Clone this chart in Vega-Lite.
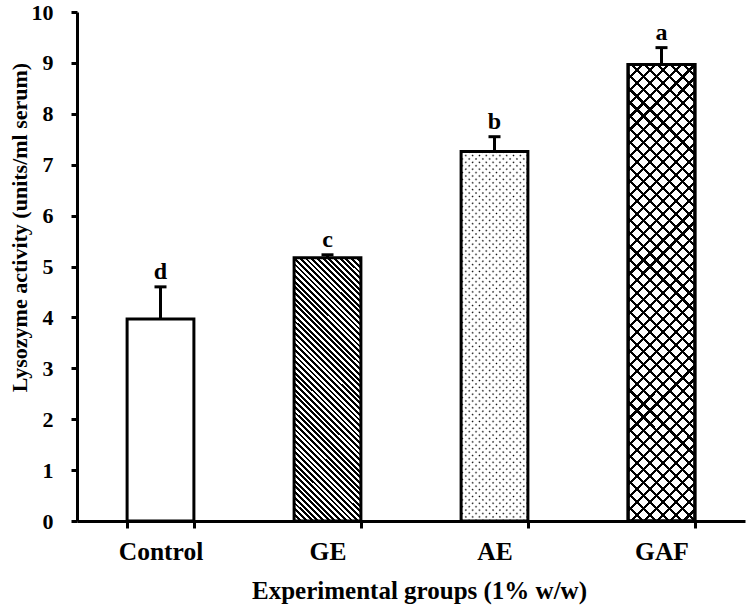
{
  "$schema": "https://vega.github.io/schema/vega-lite/v6.json",
  "width": 668,
  "height": 509,
  "autosize": {"type": "none"},
  "padding": {"left": 77, "top": 12, "right": 5, "bottom": 89},
  "background": "#ffffff",
  "data": {
    "values": [
      {"group": "Control", "mean": 3.97, "upper": 4.6, "letter": "d"},
      {"group": "GE", "mean": 5.17, "upper": 5.23, "letter": "c"},
      {"group": "AE", "mean": 7.26, "upper": 7.55, "letter": "b"},
      {"group": "GAF", "mean": 8.97, "upper": 9.3, "letter": "a"}
    ]
  },
  "encoding": {
    "x": {
      "field": "group",
      "type": "nominal",
      "sort": ["Control", "GE", "AE", "GAF"],
      "scale": {"paddingInner": 0.6, "paddingOuter": 0.3},
      "axis": {
        "title": "Experimental groups (1% w/w)",
        "labelAngle": 0,
        "tickBand": "extent",
        "tickSize": 7,
        "tickWidth": 3,
        "domainWidth": 3,
        "labelFontSize": 25.5,
        "labelBaseline": "alphabetic",
        "labelPadding": 31,
        "titleFontSize": 25,
        "titleBaseline": "alphabetic",
        "titleAnchor": "start",
        "titleAlign": "center",
        "titleX": 342,
        "titleY": 77
      }
    }
  },
  "layer": [
    {
      "transform": [{"filter": "datum.group === 'Control'"}],
      "mark": {"type": "bar", "fill": "#ffffff", "stroke": "#000000", "strokeWidth": 3},
      "encoding": {
        "y": {
          "field": "mean",
          "type": "quantitative",
          "scale": {"domain": [0, 10], "nice": false},
          "axis": {
            "title": "Lysozyme activity (units/ml serum)",
            "values": [0, 1, 2, 3, 4, 5, 6, 7, 8, 9, 10],
            "tickSize": 6,
            "tickWidth": 3,
            "domainWidth": 3,
            "labelPadding": 18,
            "labelFontSize": 22,
            "titleFontSize": 22,
            "titleAngle": -90,
            "titleAlign": "center",
            "titleBaseline": "middle",
            "titleX": -58,
            "titleY": 215
          }
        }
      }
    },
    {
      "transform": [{"filter": "datum.group === 'GE'"}],
      "mark": {
        "type": "bar",
        "stroke": "#000000",
        "strokeWidth": 3,
        "fill": {
          "gradient": "linear",
          "x1": 0, "y1": 1, "x2": 0.2984, "y2": -0.1778,
          "stops": [
            {"offset":0,"color":"#000"},
            {"offset":0.0086,"color":"#000"},{"offset":0.0086,"color":"#fff"},
            {"offset":0.0172,"color":"#fff"},{"offset":0.0172,"color":"#000"},
            {"offset":0.0259,"color":"#000"},{"offset":0.0259,"color":"#fff"},
            {"offset":0.0345,"color":"#fff"},{"offset":0.0345,"color":"#000"},
            {"offset":0.0431,"color":"#000"},{"offset":0.0431,"color":"#fff"},
            {"offset":0.0517,"color":"#fff"},{"offset":0.0517,"color":"#000"},
            {"offset":0.0603,"color":"#000"},{"offset":0.0603,"color":"#fff"},
            {"offset":0.0690,"color":"#fff"},{"offset":0.0690,"color":"#000"},
            {"offset":0.0776,"color":"#000"},{"offset":0.0776,"color":"#fff"},
            {"offset":0.0862,"color":"#fff"},{"offset":0.0862,"color":"#000"},
            {"offset":0.0948,"color":"#000"},{"offset":0.0948,"color":"#fff"},
            {"offset":0.1034,"color":"#fff"},{"offset":0.1034,"color":"#000"},
            {"offset":0.1121,"color":"#000"},{"offset":0.1121,"color":"#fff"},
            {"offset":0.1207,"color":"#fff"},{"offset":0.1207,"color":"#000"},
            {"offset":0.1293,"color":"#000"},{"offset":0.1293,"color":"#fff"},
            {"offset":0.1379,"color":"#fff"},{"offset":0.1379,"color":"#000"},
            {"offset":0.1466,"color":"#000"},{"offset":0.1466,"color":"#fff"},
            {"offset":0.1552,"color":"#fff"},{"offset":0.1552,"color":"#000"},
            {"offset":0.1638,"color":"#000"},{"offset":0.1638,"color":"#fff"},
            {"offset":0.1724,"color":"#fff"},{"offset":0.1724,"color":"#000"},
            {"offset":0.1810,"color":"#000"},{"offset":0.1810,"color":"#fff"},
            {"offset":0.1897,"color":"#fff"},{"offset":0.1897,"color":"#000"},
            {"offset":0.1983,"color":"#000"},{"offset":0.1983,"color":"#fff"},
            {"offset":0.2069,"color":"#fff"},{"offset":0.2069,"color":"#000"},
            {"offset":0.2155,"color":"#000"},{"offset":0.2155,"color":"#fff"},
            {"offset":0.2241,"color":"#fff"},{"offset":0.2241,"color":"#000"},
            {"offset":0.2328,"color":"#000"},{"offset":0.2328,"color":"#fff"},
            {"offset":0.2414,"color":"#fff"},{"offset":0.2414,"color":"#000"},
            {"offset":0.2500,"color":"#000"},{"offset":0.2500,"color":"#fff"},
            {"offset":0.2586,"color":"#fff"},{"offset":0.2586,"color":"#000"},
            {"offset":0.2672,"color":"#000"},{"offset":0.2672,"color":"#fff"},
            {"offset":0.2759,"color":"#fff"},{"offset":0.2759,"color":"#000"},
            {"offset":0.2845,"color":"#000"},{"offset":0.2845,"color":"#fff"},
            {"offset":0.2931,"color":"#fff"},{"offset":0.2931,"color":"#000"},
            {"offset":0.3017,"color":"#000"},{"offset":0.3017,"color":"#fff"},
            {"offset":0.3103,"color":"#fff"},{"offset":0.3103,"color":"#000"},
            {"offset":0.3190,"color":"#000"},{"offset":0.3190,"color":"#fff"},
            {"offset":0.3276,"color":"#fff"},{"offset":0.3276,"color":"#000"},
            {"offset":0.3362,"color":"#000"},{"offset":0.3362,"color":"#fff"},
            {"offset":0.3448,"color":"#fff"},{"offset":0.3448,"color":"#000"},
            {"offset":0.3534,"color":"#000"},{"offset":0.3534,"color":"#fff"},
            {"offset":0.3621,"color":"#fff"},{"offset":0.3621,"color":"#000"},
            {"offset":0.3707,"color":"#000"},{"offset":0.3707,"color":"#fff"},
            {"offset":0.3793,"color":"#fff"},{"offset":0.3793,"color":"#000"},
            {"offset":0.3879,"color":"#000"},{"offset":0.3879,"color":"#fff"},
            {"offset":0.3966,"color":"#fff"},{"offset":0.3966,"color":"#000"},
            {"offset":0.4052,"color":"#000"},{"offset":0.4052,"color":"#fff"},
            {"offset":0.4138,"color":"#fff"},{"offset":0.4138,"color":"#000"},
            {"offset":0.4224,"color":"#000"},{"offset":0.4224,"color":"#fff"},
            {"offset":0.4310,"color":"#fff"},{"offset":0.4310,"color":"#000"},
            {"offset":0.4397,"color":"#000"},{"offset":0.4397,"color":"#fff"},
            {"offset":0.4483,"color":"#fff"},{"offset":0.4483,"color":"#000"},
            {"offset":0.4569,"color":"#000"},{"offset":0.4569,"color":"#fff"},
            {"offset":0.4655,"color":"#fff"},{"offset":0.4655,"color":"#000"},
            {"offset":0.4741,"color":"#000"},{"offset":0.4741,"color":"#fff"},
            {"offset":0.4828,"color":"#fff"},{"offset":0.4828,"color":"#000"},
            {"offset":0.4914,"color":"#000"},{"offset":0.4914,"color":"#fff"},
            {"offset":0.5000,"color":"#fff"},{"offset":0.5000,"color":"#000"},
            {"offset":0.5086,"color":"#000"},{"offset":0.5086,"color":"#fff"},
            {"offset":0.5172,"color":"#fff"},{"offset":0.5172,"color":"#000"},
            {"offset":0.5259,"color":"#000"},{"offset":0.5259,"color":"#fff"},
            {"offset":0.5345,"color":"#fff"},{"offset":0.5345,"color":"#000"},
            {"offset":0.5431,"color":"#000"},{"offset":0.5431,"color":"#fff"},
            {"offset":0.5517,"color":"#fff"},{"offset":0.5517,"color":"#000"},
            {"offset":0.5603,"color":"#000"},{"offset":0.5603,"color":"#fff"},
            {"offset":0.5690,"color":"#fff"},{"offset":0.5690,"color":"#000"},
            {"offset":0.5776,"color":"#000"},{"offset":0.5776,"color":"#fff"},
            {"offset":0.5862,"color":"#fff"},{"offset":0.5862,"color":"#000"},
            {"offset":0.5948,"color":"#000"},{"offset":0.5948,"color":"#fff"},
            {"offset":0.6034,"color":"#fff"},{"offset":0.6034,"color":"#000"},
            {"offset":0.6121,"color":"#000"},{"offset":0.6121,"color":"#fff"},
            {"offset":0.6207,"color":"#fff"},{"offset":0.6207,"color":"#000"},
            {"offset":0.6293,"color":"#000"},{"offset":0.6293,"color":"#fff"},
            {"offset":0.6379,"color":"#fff"},{"offset":0.6379,"color":"#000"},
            {"offset":0.6466,"color":"#000"},{"offset":0.6466,"color":"#fff"},
            {"offset":0.6552,"color":"#fff"},{"offset":0.6552,"color":"#000"},
            {"offset":0.6638,"color":"#000"},{"offset":0.6638,"color":"#fff"},
            {"offset":0.6724,"color":"#fff"},{"offset":0.6724,"color":"#000"},
            {"offset":0.6810,"color":"#000"},{"offset":0.6810,"color":"#fff"},
            {"offset":0.6897,"color":"#fff"},{"offset":0.6897,"color":"#000"},
            {"offset":0.6983,"color":"#000"},{"offset":0.6983,"color":"#fff"},
            {"offset":0.7069,"color":"#fff"},{"offset":0.7069,"color":"#000"},
            {"offset":0.7155,"color":"#000"},{"offset":0.7155,"color":"#fff"},
            {"offset":0.7241,"color":"#fff"},{"offset":0.7241,"color":"#000"},
            {"offset":0.7328,"color":"#000"},{"offset":0.7328,"color":"#fff"},
            {"offset":0.7414,"color":"#fff"},{"offset":0.7414,"color":"#000"},
            {"offset":0.7500,"color":"#000"},{"offset":0.7500,"color":"#fff"},
            {"offset":0.7586,"color":"#fff"},{"offset":0.7586,"color":"#000"},
            {"offset":0.7672,"color":"#000"},{"offset":0.7672,"color":"#fff"},
            {"offset":0.7759,"color":"#fff"},{"offset":0.7759,"color":"#000"},
            {"offset":0.7845,"color":"#000"},{"offset":0.7845,"color":"#fff"},
            {"offset":0.7931,"color":"#fff"},{"offset":0.7931,"color":"#000"},
            {"offset":0.8017,"color":"#000"},{"offset":0.8017,"color":"#fff"},
            {"offset":0.8103,"color":"#fff"},{"offset":0.8103,"color":"#000"},
            {"offset":0.8190,"color":"#000"},{"offset":0.8190,"color":"#fff"},
            {"offset":0.8276,"color":"#fff"},{"offset":0.8276,"color":"#000"},
            {"offset":0.8362,"color":"#000"},{"offset":0.8362,"color":"#fff"},
            {"offset":0.8448,"color":"#fff"},{"offset":0.8448,"color":"#000"},
            {"offset":0.8534,"color":"#000"},{"offset":0.8534,"color":"#fff"},
            {"offset":0.8621,"color":"#fff"},{"offset":0.8621,"color":"#000"},
            {"offset":0.8707,"color":"#000"},{"offset":0.8707,"color":"#fff"},
            {"offset":0.8793,"color":"#fff"},{"offset":0.8793,"color":"#000"},
            {"offset":0.8879,"color":"#000"},{"offset":0.8879,"color":"#fff"},
            {"offset":0.8966,"color":"#fff"},{"offset":0.8966,"color":"#000"},
            {"offset":0.9052,"color":"#000"},{"offset":0.9052,"color":"#fff"},
            {"offset":0.9138,"color":"#fff"},{"offset":0.9138,"color":"#000"},
            {"offset":0.9224,"color":"#000"},{"offset":0.9224,"color":"#fff"},
            {"offset":0.9310,"color":"#fff"},{"offset":0.9310,"color":"#000"},
            {"offset":0.9397,"color":"#000"},{"offset":0.9397,"color":"#fff"},
            {"offset":0.9483,"color":"#fff"},{"offset":0.9483,"color":"#000"},
            {"offset":0.9569,"color":"#000"},{"offset":0.9569,"color":"#fff"},
            {"offset":0.9655,"color":"#fff"},{"offset":0.9655,"color":"#000"},
            {"offset":0.9741,"color":"#000"},{"offset":0.9741,"color":"#fff"},
            {"offset":0.9828,"color":"#fff"},{"offset":0.9828,"color":"#000"},
            {"offset":0.9914,"color":"#000"},{"offset":0.9914,"color":"#fff"},
            {"offset":1,"color":"#fff"}
          ]
        }
      },
      "encoding": {"y": {"field": "mean", "type": "quantitative"}}
    },
    {
      "transform": [{"filter": "datum.group === 'AE'"}],
      "mark": {"type": "bar", "fill": "#000000"},
      "encoding": {"y": {"field": "mean", "type": "quantitative"}}
    },
    {
      "transform": [{"filter": "datum.group === 'AE'"}],
      "mark": {
        "type": "bar",
        "fill": {
          "gradient": "linear",
          "x1": 0, "y1": 1, "x2": 0.2067, "y2": -0.1435,
          "stops": [
            {"offset":0,"color":"#fff"},{"offset":0.0045,"color":"rgba(255,255,255,0)"},{"offset":0.009,"color":"#fff"},
            {"offset":0.0156,"color":"#fff"},{"offset":0.0201,"color":"rgba(255,255,255,0)"},{"offset":0.0246,"color":"#fff"},
            {"offset":0.0313,"color":"#fff"},{"offset":0.0358,"color":"rgba(255,255,255,0)"},{"offset":0.0403,"color":"#fff"},
            {"offset":0.0469,"color":"#fff"},{"offset":0.0514,"color":"rgba(255,255,255,0)"},{"offset":0.0559,"color":"#fff"},
            {"offset":0.0625,"color":"#fff"},{"offset":0.067,"color":"rgba(255,255,255,0)"},{"offset":0.0715,"color":"#fff"},
            {"offset":0.0781,"color":"#fff"},{"offset":0.0826,"color":"rgba(255,255,255,0)"},{"offset":0.0871,"color":"#fff"},
            {"offset":0.0938,"color":"#fff"},{"offset":0.0983,"color":"rgba(255,255,255,0)"},{"offset":0.1028,"color":"#fff"},
            {"offset":0.1094,"color":"#fff"},{"offset":0.1139,"color":"rgba(255,255,255,0)"},{"offset":0.1184,"color":"#fff"},
            {"offset":0.125,"color":"#fff"},{"offset":0.1295,"color":"rgba(255,255,255,0)"},{"offset":0.134,"color":"#fff"},
            {"offset":0.1406,"color":"#fff"},{"offset":0.1451,"color":"rgba(255,255,255,0)"},{"offset":0.1496,"color":"#fff"},
            {"offset":0.1563,"color":"#fff"},{"offset":0.1608,"color":"rgba(255,255,255,0)"},{"offset":0.1653,"color":"#fff"},
            {"offset":0.1719,"color":"#fff"},{"offset":0.1764,"color":"rgba(255,255,255,0)"},{"offset":0.1809,"color":"#fff"},
            {"offset":0.1875,"color":"#fff"},{"offset":0.192,"color":"rgba(255,255,255,0)"},{"offset":0.1965,"color":"#fff"},
            {"offset":0.2031,"color":"#fff"},{"offset":0.2076,"color":"rgba(255,255,255,0)"},{"offset":0.2121,"color":"#fff"},
            {"offset":0.2188,"color":"#fff"},{"offset":0.2233,"color":"rgba(255,255,255,0)"},{"offset":0.2278,"color":"#fff"},
            {"offset":0.2344,"color":"#fff"},{"offset":0.2389,"color":"rgba(255,255,255,0)"},{"offset":0.2434,"color":"#fff"},
            {"offset":0.25,"color":"#fff"},{"offset":0.2545,"color":"rgba(255,255,255,0)"},{"offset":0.259,"color":"#fff"},
            {"offset":0.2656,"color":"#fff"},{"offset":0.2701,"color":"rgba(255,255,255,0)"},{"offset":0.2746,"color":"#fff"},
            {"offset":0.2813,"color":"#fff"},{"offset":0.2858,"color":"rgba(255,255,255,0)"},{"offset":0.2903,"color":"#fff"},
            {"offset":0.2969,"color":"#fff"},{"offset":0.3014,"color":"rgba(255,255,255,0)"},{"offset":0.3059,"color":"#fff"},
            {"offset":0.3125,"color":"#fff"},{"offset":0.317,"color":"rgba(255,255,255,0)"},{"offset":0.3215,"color":"#fff"},
            {"offset":0.3281,"color":"#fff"},{"offset":0.3326,"color":"rgba(255,255,255,0)"},{"offset":0.3371,"color":"#fff"},
            {"offset":0.3438,"color":"#fff"},{"offset":0.3483,"color":"rgba(255,255,255,0)"},{"offset":0.3528,"color":"#fff"},
            {"offset":0.3594,"color":"#fff"},{"offset":0.3639,"color":"rgba(255,255,255,0)"},{"offset":0.3684,"color":"#fff"},
            {"offset":0.375,"color":"#fff"},{"offset":0.3795,"color":"rgba(255,255,255,0)"},{"offset":0.384,"color":"#fff"},
            {"offset":0.3906,"color":"#fff"},{"offset":0.3951,"color":"rgba(255,255,255,0)"},{"offset":0.3996,"color":"#fff"},
            {"offset":0.4063,"color":"#fff"},{"offset":0.4108,"color":"rgba(255,255,255,0)"},{"offset":0.4153,"color":"#fff"},
            {"offset":0.4219,"color":"#fff"},{"offset":0.4264,"color":"rgba(255,255,255,0)"},{"offset":0.4309,"color":"#fff"},
            {"offset":0.4375,"color":"#fff"},{"offset":0.442,"color":"rgba(255,255,255,0)"},{"offset":0.4465,"color":"#fff"},
            {"offset":0.4531,"color":"#fff"},{"offset":0.4576,"color":"rgba(255,255,255,0)"},{"offset":0.4621,"color":"#fff"},
            {"offset":0.4688,"color":"#fff"},{"offset":0.4733,"color":"rgba(255,255,255,0)"},{"offset":0.4778,"color":"#fff"},
            {"offset":0.4844,"color":"#fff"},{"offset":0.4889,"color":"rgba(255,255,255,0)"},{"offset":0.4934,"color":"#fff"},
            {"offset":0.5,"color":"#fff"},{"offset":0.5045,"color":"rgba(255,255,255,0)"},{"offset":0.509,"color":"#fff"},
            {"offset":0.5156,"color":"#fff"},{"offset":0.5201,"color":"rgba(255,255,255,0)"},{"offset":0.5246,"color":"#fff"},
            {"offset":0.5313,"color":"#fff"},{"offset":0.5358,"color":"rgba(255,255,255,0)"},{"offset":0.5403,"color":"#fff"},
            {"offset":0.5469,"color":"#fff"},{"offset":0.5514,"color":"rgba(255,255,255,0)"},{"offset":0.5559,"color":"#fff"},
            {"offset":0.5625,"color":"#fff"},{"offset":0.567,"color":"rgba(255,255,255,0)"},{"offset":0.5715,"color":"#fff"},
            {"offset":0.5781,"color":"#fff"},{"offset":0.5826,"color":"rgba(255,255,255,0)"},{"offset":0.5871,"color":"#fff"},
            {"offset":0.5938,"color":"#fff"},{"offset":0.5983,"color":"rgba(255,255,255,0)"},{"offset":0.6028,"color":"#fff"},
            {"offset":0.6094,"color":"#fff"},{"offset":0.6139,"color":"rgba(255,255,255,0)"},{"offset":0.6184,"color":"#fff"},
            {"offset":0.625,"color":"#fff"},{"offset":0.6295,"color":"rgba(255,255,255,0)"},{"offset":0.634,"color":"#fff"},
            {"offset":0.6406,"color":"#fff"},{"offset":0.6451,"color":"rgba(255,255,255,0)"},{"offset":0.6496,"color":"#fff"},
            {"offset":0.6563,"color":"#fff"},{"offset":0.6608,"color":"rgba(255,255,255,0)"},{"offset":0.6653,"color":"#fff"},
            {"offset":0.6719,"color":"#fff"},{"offset":0.6764,"color":"rgba(255,255,255,0)"},{"offset":0.6809,"color":"#fff"},
            {"offset":0.6875,"color":"#fff"},{"offset":0.692,"color":"rgba(255,255,255,0)"},{"offset":0.6965,"color":"#fff"},
            {"offset":0.7031,"color":"#fff"},{"offset":0.7076,"color":"rgba(255,255,255,0)"},{"offset":0.7121,"color":"#fff"},
            {"offset":0.7188,"color":"#fff"},{"offset":0.7233,"color":"rgba(255,255,255,0)"},{"offset":0.7278,"color":"#fff"},
            {"offset":0.7344,"color":"#fff"},{"offset":0.7389,"color":"rgba(255,255,255,0)"},{"offset":0.7434,"color":"#fff"},
            {"offset":0.75,"color":"#fff"},{"offset":0.7545,"color":"rgba(255,255,255,0)"},{"offset":0.759,"color":"#fff"},
            {"offset":0.7656,"color":"#fff"},{"offset":0.7701,"color":"rgba(255,255,255,0)"},{"offset":0.7746,"color":"#fff"},
            {"offset":0.7813,"color":"#fff"},{"offset":0.7858,"color":"rgba(255,255,255,0)"},{"offset":0.7903,"color":"#fff"},
            {"offset":0.7969,"color":"#fff"},{"offset":0.8014,"color":"rgba(255,255,255,0)"},{"offset":0.8059,"color":"#fff"},
            {"offset":0.8125,"color":"#fff"},{"offset":0.817,"color":"rgba(255,255,255,0)"},{"offset":0.8215,"color":"#fff"},
            {"offset":0.8281,"color":"#fff"},{"offset":0.8326,"color":"rgba(255,255,255,0)"},{"offset":0.8371,"color":"#fff"},
            {"offset":0.8438,"color":"#fff"},{"offset":0.8483,"color":"rgba(255,255,255,0)"},{"offset":0.8528,"color":"#fff"},
            {"offset":0.8594,"color":"#fff"},{"offset":0.8639,"color":"rgba(255,255,255,0)"},{"offset":0.8684,"color":"#fff"},
            {"offset":0.875,"color":"#fff"},{"offset":0.8795,"color":"rgba(255,255,255,0)"},{"offset":0.884,"color":"#fff"},
            {"offset":0.8906,"color":"#fff"},{"offset":0.8951,"color":"rgba(255,255,255,0)"},{"offset":0.8996,"color":"#fff"},
            {"offset":0.9063,"color":"#fff"},{"offset":0.9108,"color":"rgba(255,255,255,0)"},{"offset":0.9153,"color":"#fff"},
            {"offset":0.9219,"color":"#fff"},{"offset":0.9264,"color":"rgba(255,255,255,0)"},{"offset":0.9309,"color":"#fff"},
            {"offset":0.9375,"color":"#fff"},{"offset":0.942,"color":"rgba(255,255,255,0)"},{"offset":0.9465,"color":"#fff"},
            {"offset":0.9531,"color":"#fff"},{"offset":0.9576,"color":"rgba(255,255,255,0)"},{"offset":0.9621,"color":"#fff"},
            {"offset":0.9688,"color":"#fff"},{"offset":0.9733,"color":"rgba(255,255,255,0)"},{"offset":0.9778,"color":"#fff"},
            {"offset":0.9844,"color":"#fff"},{"offset":0.9889,"color":"rgba(255,255,255,0)"},{"offset":0.9934,"color":"#fff"},
            {"offset":1,"color":"#fff"}
          ]
        }
      },
      "encoding": {"y": {"field": "mean", "type": "quantitative"}}
    },
    {
      "transform": [{"filter": "datum.group === 'AE'"}],
      "mark": {
        "type": "bar",
        "stroke": "#000000",
        "strokeWidth": 3,
        "fill": {
          "gradient": "linear",
          "x1": 0, "y1": 0, "x2": 0.2067, "y2": 1.1435,
          "stops": [
            {"offset":0,"color":"#fff"},{"offset":0.0045,"color":"rgba(255,255,255,0)"},{"offset":0.009,"color":"#fff"},
            {"offset":0.0156,"color":"#fff"},{"offset":0.0201,"color":"rgba(255,255,255,0)"},{"offset":0.0246,"color":"#fff"},
            {"offset":0.0313,"color":"#fff"},{"offset":0.0358,"color":"rgba(255,255,255,0)"},{"offset":0.0403,"color":"#fff"},
            {"offset":0.0469,"color":"#fff"},{"offset":0.0514,"color":"rgba(255,255,255,0)"},{"offset":0.0559,"color":"#fff"},
            {"offset":0.0625,"color":"#fff"},{"offset":0.067,"color":"rgba(255,255,255,0)"},{"offset":0.0715,"color":"#fff"},
            {"offset":0.0781,"color":"#fff"},{"offset":0.0826,"color":"rgba(255,255,255,0)"},{"offset":0.0871,"color":"#fff"},
            {"offset":0.0938,"color":"#fff"},{"offset":0.0983,"color":"rgba(255,255,255,0)"},{"offset":0.1028,"color":"#fff"},
            {"offset":0.1094,"color":"#fff"},{"offset":0.1139,"color":"rgba(255,255,255,0)"},{"offset":0.1184,"color":"#fff"},
            {"offset":0.125,"color":"#fff"},{"offset":0.1295,"color":"rgba(255,255,255,0)"},{"offset":0.134,"color":"#fff"},
            {"offset":0.1406,"color":"#fff"},{"offset":0.1451,"color":"rgba(255,255,255,0)"},{"offset":0.1496,"color":"#fff"},
            {"offset":0.1563,"color":"#fff"},{"offset":0.1608,"color":"rgba(255,255,255,0)"},{"offset":0.1653,"color":"#fff"},
            {"offset":0.1719,"color":"#fff"},{"offset":0.1764,"color":"rgba(255,255,255,0)"},{"offset":0.1809,"color":"#fff"},
            {"offset":0.1875,"color":"#fff"},{"offset":0.192,"color":"rgba(255,255,255,0)"},{"offset":0.1965,"color":"#fff"},
            {"offset":0.2031,"color":"#fff"},{"offset":0.2076,"color":"rgba(255,255,255,0)"},{"offset":0.2121,"color":"#fff"},
            {"offset":0.2188,"color":"#fff"},{"offset":0.2233,"color":"rgba(255,255,255,0)"},{"offset":0.2278,"color":"#fff"},
            {"offset":0.2344,"color":"#fff"},{"offset":0.2389,"color":"rgba(255,255,255,0)"},{"offset":0.2434,"color":"#fff"},
            {"offset":0.25,"color":"#fff"},{"offset":0.2545,"color":"rgba(255,255,255,0)"},{"offset":0.259,"color":"#fff"},
            {"offset":0.2656,"color":"#fff"},{"offset":0.2701,"color":"rgba(255,255,255,0)"},{"offset":0.2746,"color":"#fff"},
            {"offset":0.2813,"color":"#fff"},{"offset":0.2858,"color":"rgba(255,255,255,0)"},{"offset":0.2903,"color":"#fff"},
            {"offset":0.2969,"color":"#fff"},{"offset":0.3014,"color":"rgba(255,255,255,0)"},{"offset":0.3059,"color":"#fff"},
            {"offset":0.3125,"color":"#fff"},{"offset":0.317,"color":"rgba(255,255,255,0)"},{"offset":0.3215,"color":"#fff"},
            {"offset":0.3281,"color":"#fff"},{"offset":0.3326,"color":"rgba(255,255,255,0)"},{"offset":0.3371,"color":"#fff"},
            {"offset":0.3438,"color":"#fff"},{"offset":0.3483,"color":"rgba(255,255,255,0)"},{"offset":0.3528,"color":"#fff"},
            {"offset":0.3594,"color":"#fff"},{"offset":0.3639,"color":"rgba(255,255,255,0)"},{"offset":0.3684,"color":"#fff"},
            {"offset":0.375,"color":"#fff"},{"offset":0.3795,"color":"rgba(255,255,255,0)"},{"offset":0.384,"color":"#fff"},
            {"offset":0.3906,"color":"#fff"},{"offset":0.3951,"color":"rgba(255,255,255,0)"},{"offset":0.3996,"color":"#fff"},
            {"offset":0.4063,"color":"#fff"},{"offset":0.4108,"color":"rgba(255,255,255,0)"},{"offset":0.4153,"color":"#fff"},
            {"offset":0.4219,"color":"#fff"},{"offset":0.4264,"color":"rgba(255,255,255,0)"},{"offset":0.4309,"color":"#fff"},
            {"offset":0.4375,"color":"#fff"},{"offset":0.442,"color":"rgba(255,255,255,0)"},{"offset":0.4465,"color":"#fff"},
            {"offset":0.4531,"color":"#fff"},{"offset":0.4576,"color":"rgba(255,255,255,0)"},{"offset":0.4621,"color":"#fff"},
            {"offset":0.4688,"color":"#fff"},{"offset":0.4733,"color":"rgba(255,255,255,0)"},{"offset":0.4778,"color":"#fff"},
            {"offset":0.4844,"color":"#fff"},{"offset":0.4889,"color":"rgba(255,255,255,0)"},{"offset":0.4934,"color":"#fff"},
            {"offset":0.5,"color":"#fff"},{"offset":0.5045,"color":"rgba(255,255,255,0)"},{"offset":0.509,"color":"#fff"},
            {"offset":0.5156,"color":"#fff"},{"offset":0.5201,"color":"rgba(255,255,255,0)"},{"offset":0.5246,"color":"#fff"},
            {"offset":0.5313,"color":"#fff"},{"offset":0.5358,"color":"rgba(255,255,255,0)"},{"offset":0.5403,"color":"#fff"},
            {"offset":0.5469,"color":"#fff"},{"offset":0.5514,"color":"rgba(255,255,255,0)"},{"offset":0.5559,"color":"#fff"},
            {"offset":0.5625,"color":"#fff"},{"offset":0.567,"color":"rgba(255,255,255,0)"},{"offset":0.5715,"color":"#fff"},
            {"offset":0.5781,"color":"#fff"},{"offset":0.5826,"color":"rgba(255,255,255,0)"},{"offset":0.5871,"color":"#fff"},
            {"offset":0.5938,"color":"#fff"},{"offset":0.5983,"color":"rgba(255,255,255,0)"},{"offset":0.6028,"color":"#fff"},
            {"offset":0.6094,"color":"#fff"},{"offset":0.6139,"color":"rgba(255,255,255,0)"},{"offset":0.6184,"color":"#fff"},
            {"offset":0.625,"color":"#fff"},{"offset":0.6295,"color":"rgba(255,255,255,0)"},{"offset":0.634,"color":"#fff"},
            {"offset":0.6406,"color":"#fff"},{"offset":0.6451,"color":"rgba(255,255,255,0)"},{"offset":0.6496,"color":"#fff"},
            {"offset":0.6563,"color":"#fff"},{"offset":0.6608,"color":"rgba(255,255,255,0)"},{"offset":0.6653,"color":"#fff"},
            {"offset":0.6719,"color":"#fff"},{"offset":0.6764,"color":"rgba(255,255,255,0)"},{"offset":0.6809,"color":"#fff"},
            {"offset":0.6875,"color":"#fff"},{"offset":0.692,"color":"rgba(255,255,255,0)"},{"offset":0.6965,"color":"#fff"},
            {"offset":0.7031,"color":"#fff"},{"offset":0.7076,"color":"rgba(255,255,255,0)"},{"offset":0.7121,"color":"#fff"},
            {"offset":0.7188,"color":"#fff"},{"offset":0.7233,"color":"rgba(255,255,255,0)"},{"offset":0.7278,"color":"#fff"},
            {"offset":0.7344,"color":"#fff"},{"offset":0.7389,"color":"rgba(255,255,255,0)"},{"offset":0.7434,"color":"#fff"},
            {"offset":0.75,"color":"#fff"},{"offset":0.7545,"color":"rgba(255,255,255,0)"},{"offset":0.759,"color":"#fff"},
            {"offset":0.7656,"color":"#fff"},{"offset":0.7701,"color":"rgba(255,255,255,0)"},{"offset":0.7746,"color":"#fff"},
            {"offset":0.7813,"color":"#fff"},{"offset":0.7858,"color":"rgba(255,255,255,0)"},{"offset":0.7903,"color":"#fff"},
            {"offset":0.7969,"color":"#fff"},{"offset":0.8014,"color":"rgba(255,255,255,0)"},{"offset":0.8059,"color":"#fff"},
            {"offset":0.8125,"color":"#fff"},{"offset":0.817,"color":"rgba(255,255,255,0)"},{"offset":0.8215,"color":"#fff"},
            {"offset":0.8281,"color":"#fff"},{"offset":0.8326,"color":"rgba(255,255,255,0)"},{"offset":0.8371,"color":"#fff"},
            {"offset":0.8438,"color":"#fff"},{"offset":0.8483,"color":"rgba(255,255,255,0)"},{"offset":0.8528,"color":"#fff"},
            {"offset":0.8594,"color":"#fff"},{"offset":0.8639,"color":"rgba(255,255,255,0)"},{"offset":0.8684,"color":"#fff"},
            {"offset":0.875,"color":"#fff"},{"offset":0.8795,"color":"rgba(255,255,255,0)"},{"offset":0.884,"color":"#fff"},
            {"offset":0.8906,"color":"#fff"},{"offset":0.8951,"color":"rgba(255,255,255,0)"},{"offset":0.8996,"color":"#fff"},
            {"offset":0.9063,"color":"#fff"},{"offset":0.9108,"color":"rgba(255,255,255,0)"},{"offset":0.9153,"color":"#fff"},
            {"offset":0.9219,"color":"#fff"},{"offset":0.9264,"color":"rgba(255,255,255,0)"},{"offset":0.9309,"color":"#fff"},
            {"offset":0.9375,"color":"#fff"},{"offset":0.942,"color":"rgba(255,255,255,0)"},{"offset":0.9465,"color":"#fff"},
            {"offset":0.9531,"color":"#fff"},{"offset":0.9576,"color":"rgba(255,255,255,0)"},{"offset":0.9621,"color":"#fff"},
            {"offset":0.9688,"color":"#fff"},{"offset":0.9733,"color":"rgba(255,255,255,0)"},{"offset":0.9778,"color":"#fff"},
            {"offset":0.9844,"color":"#fff"},{"offset":0.9889,"color":"rgba(255,255,255,0)"},{"offset":0.9934,"color":"#fff"},
            {"offset":1,"color":"#fff"}
          ]
        }
      },
      "encoding": {"y": {"field": "mean", "type": "quantitative"}}
    },
    {
      "transform": [{"filter": "datum.group === 'GAF'"}],
      "mark": {
        "type": "bar",
        "stroke": "#000000",
        "strokeWidth": 3,
        "fill": {
          "gradient": "linear",
          "x1": 0, "y1": 1, "x2": 0.1644, "y2": -0.1225,
          "stops": [
            {"offset":0,"color":"#000"},{"offset":0.006,"color":"#000"},{"offset":0.006,"color":"#fff"},{"offset":0.025,"color":"#fff"},
            {"offset":0.025,"color":"#000"},{"offset":0.031,"color":"#000"},{"offset":0.031,"color":"#fff"},{"offset":0.05,"color":"#fff"},
            {"offset":0.05,"color":"#000"},{"offset":0.056,"color":"#000"},{"offset":0.056,"color":"#fff"},{"offset":0.075,"color":"#fff"},
            {"offset":0.075,"color":"#000"},{"offset":0.081,"color":"#000"},{"offset":0.081,"color":"#fff"},{"offset":0.1,"color":"#fff"},
            {"offset":0.1,"color":"#000"},{"offset":0.106,"color":"#000"},{"offset":0.106,"color":"#fff"},{"offset":0.125,"color":"#fff"},
            {"offset":0.125,"color":"#000"},{"offset":0.131,"color":"#000"},{"offset":0.131,"color":"#fff"},{"offset":0.15,"color":"#fff"},
            {"offset":0.15,"color":"#000"},{"offset":0.156,"color":"#000"},{"offset":0.156,"color":"#fff"},{"offset":0.175,"color":"#fff"},
            {"offset":0.175,"color":"#000"},{"offset":0.181,"color":"#000"},{"offset":0.181,"color":"#fff"},{"offset":0.2,"color":"#fff"},
            {"offset":0.2,"color":"#000"},{"offset":0.206,"color":"#000"},{"offset":0.206,"color":"#fff"},{"offset":0.225,"color":"#fff"},
            {"offset":0.225,"color":"#000"},{"offset":0.231,"color":"#000"},{"offset":0.231,"color":"#fff"},{"offset":0.25,"color":"#fff"},
            {"offset":0.25,"color":"#000"},{"offset":0.256,"color":"#000"},{"offset":0.256,"color":"#fff"},{"offset":0.275,"color":"#fff"},
            {"offset":0.275,"color":"#000"},{"offset":0.281,"color":"#000"},{"offset":0.281,"color":"#fff"},{"offset":0.3,"color":"#fff"},
            {"offset":0.3,"color":"#000"},{"offset":0.306,"color":"#000"},{"offset":0.306,"color":"#fff"},{"offset":0.325,"color":"#fff"},
            {"offset":0.325,"color":"#000"},{"offset":0.331,"color":"#000"},{"offset":0.331,"color":"#fff"},{"offset":0.35,"color":"#fff"},
            {"offset":0.35,"color":"#000"},{"offset":0.356,"color":"#000"},{"offset":0.356,"color":"#fff"},{"offset":0.375,"color":"#fff"},
            {"offset":0.375,"color":"#000"},{"offset":0.381,"color":"#000"},{"offset":0.381,"color":"#fff"},{"offset":0.4,"color":"#fff"},
            {"offset":0.4,"color":"#000"},{"offset":0.406,"color":"#000"},{"offset":0.406,"color":"#fff"},{"offset":0.425,"color":"#fff"},
            {"offset":0.425,"color":"#000"},{"offset":0.431,"color":"#000"},{"offset":0.431,"color":"#fff"},{"offset":0.45,"color":"#fff"},
            {"offset":0.45,"color":"#000"},{"offset":0.456,"color":"#000"},{"offset":0.456,"color":"#fff"},{"offset":0.475,"color":"#fff"},
            {"offset":0.475,"color":"#000"},{"offset":0.481,"color":"#000"},{"offset":0.481,"color":"#fff"},{"offset":0.5,"color":"#fff"},
            {"offset":0.5,"color":"#000"},{"offset":0.506,"color":"#000"},{"offset":0.506,"color":"#fff"},{"offset":0.525,"color":"#fff"},
            {"offset":0.525,"color":"#000"},{"offset":0.531,"color":"#000"},{"offset":0.531,"color":"#fff"},{"offset":0.55,"color":"#fff"},
            {"offset":0.55,"color":"#000"},{"offset":0.556,"color":"#000"},{"offset":0.556,"color":"#fff"},{"offset":0.575,"color":"#fff"},
            {"offset":0.575,"color":"#000"},{"offset":0.581,"color":"#000"},{"offset":0.581,"color":"#fff"},{"offset":0.6,"color":"#fff"},
            {"offset":0.6,"color":"#000"},{"offset":0.606,"color":"#000"},{"offset":0.606,"color":"#fff"},{"offset":0.625,"color":"#fff"},
            {"offset":0.625,"color":"#000"},{"offset":0.631,"color":"#000"},{"offset":0.631,"color":"#fff"},{"offset":0.65,"color":"#fff"},
            {"offset":0.65,"color":"#000"},{"offset":0.656,"color":"#000"},{"offset":0.656,"color":"#fff"},{"offset":0.675,"color":"#fff"},
            {"offset":0.675,"color":"#000"},{"offset":0.681,"color":"#000"},{"offset":0.681,"color":"#fff"},{"offset":0.7,"color":"#fff"},
            {"offset":0.7,"color":"#000"},{"offset":0.706,"color":"#000"},{"offset":0.706,"color":"#fff"},{"offset":0.725,"color":"#fff"},
            {"offset":0.725,"color":"#000"},{"offset":0.731,"color":"#000"},{"offset":0.731,"color":"#fff"},{"offset":0.75,"color":"#fff"},
            {"offset":0.75,"color":"#000"},{"offset":0.756,"color":"#000"},{"offset":0.756,"color":"#fff"},{"offset":0.775,"color":"#fff"},
            {"offset":0.775,"color":"#000"},{"offset":0.781,"color":"#000"},{"offset":0.781,"color":"#fff"},{"offset":0.8,"color":"#fff"},
            {"offset":0.8,"color":"#000"},{"offset":0.806,"color":"#000"},{"offset":0.806,"color":"#fff"},{"offset":0.825,"color":"#fff"},
            {"offset":0.825,"color":"#000"},{"offset":0.831,"color":"#000"},{"offset":0.831,"color":"#fff"},{"offset":0.85,"color":"#fff"},
            {"offset":0.85,"color":"#000"},{"offset":0.856,"color":"#000"},{"offset":0.856,"color":"#fff"},{"offset":0.875,"color":"#fff"},
            {"offset":0.875,"color":"#000"},{"offset":0.881,"color":"#000"},{"offset":0.881,"color":"#fff"},{"offset":0.9,"color":"#fff"},
            {"offset":0.9,"color":"#000"},{"offset":0.906,"color":"#000"},{"offset":0.906,"color":"#fff"},{"offset":0.925,"color":"#fff"},
            {"offset":0.925,"color":"#000"},{"offset":0.931,"color":"#000"},{"offset":0.931,"color":"#fff"},{"offset":0.95,"color":"#fff"},
            {"offset":0.95,"color":"#000"},{"offset":0.956,"color":"#000"},{"offset":0.956,"color":"#fff"},{"offset":0.975,"color":"#fff"},
            {"offset":0.975,"color":"#000"},{"offset":0.981,"color":"#000"},{"offset":0.981,"color":"#fff"},{"offset":1,"color":"#fff"}
          ]
        }
      },
      "encoding": {"y": {"field": "mean", "type": "quantitative"}}
    },
    {
      "transform": [{"filter": "datum.group === 'GAF'"}],
      "mark": {
        "type": "bar",
        "stroke": "#000000",
        "strokeWidth": 3,
        "fill": {
          "gradient": "linear",
          "x1": 0, "y1": 0, "x2": 0.1644, "y2": 1.1225,
          "stops": [
            {"offset":0,"color":"#000"},{"offset":0.006,"color":"#000"},{"offset":0.006,"color":"rgba(0,0,0,0)"},{"offset":0.025,"color":"rgba(0,0,0,0)"},
            {"offset":0.025,"color":"#000"},{"offset":0.031,"color":"#000"},{"offset":0.031,"color":"rgba(0,0,0,0)"},{"offset":0.05,"color":"rgba(0,0,0,0)"},
            {"offset":0.05,"color":"#000"},{"offset":0.056,"color":"#000"},{"offset":0.056,"color":"rgba(0,0,0,0)"},{"offset":0.075,"color":"rgba(0,0,0,0)"},
            {"offset":0.075,"color":"#000"},{"offset":0.081,"color":"#000"},{"offset":0.081,"color":"rgba(0,0,0,0)"},{"offset":0.1,"color":"rgba(0,0,0,0)"},
            {"offset":0.1,"color":"#000"},{"offset":0.106,"color":"#000"},{"offset":0.106,"color":"rgba(0,0,0,0)"},{"offset":0.125,"color":"rgba(0,0,0,0)"},
            {"offset":0.125,"color":"#000"},{"offset":0.131,"color":"#000"},{"offset":0.131,"color":"rgba(0,0,0,0)"},{"offset":0.15,"color":"rgba(0,0,0,0)"},
            {"offset":0.15,"color":"#000"},{"offset":0.156,"color":"#000"},{"offset":0.156,"color":"rgba(0,0,0,0)"},{"offset":0.175,"color":"rgba(0,0,0,0)"},
            {"offset":0.175,"color":"#000"},{"offset":0.181,"color":"#000"},{"offset":0.181,"color":"rgba(0,0,0,0)"},{"offset":0.2,"color":"rgba(0,0,0,0)"},
            {"offset":0.2,"color":"#000"},{"offset":0.206,"color":"#000"},{"offset":0.206,"color":"rgba(0,0,0,0)"},{"offset":0.225,"color":"rgba(0,0,0,0)"},
            {"offset":0.225,"color":"#000"},{"offset":0.231,"color":"#000"},{"offset":0.231,"color":"rgba(0,0,0,0)"},{"offset":0.25,"color":"rgba(0,0,0,0)"},
            {"offset":0.25,"color":"#000"},{"offset":0.256,"color":"#000"},{"offset":0.256,"color":"rgba(0,0,0,0)"},{"offset":0.275,"color":"rgba(0,0,0,0)"},
            {"offset":0.275,"color":"#000"},{"offset":0.281,"color":"#000"},{"offset":0.281,"color":"rgba(0,0,0,0)"},{"offset":0.3,"color":"rgba(0,0,0,0)"},
            {"offset":0.3,"color":"#000"},{"offset":0.306,"color":"#000"},{"offset":0.306,"color":"rgba(0,0,0,0)"},{"offset":0.325,"color":"rgba(0,0,0,0)"},
            {"offset":0.325,"color":"#000"},{"offset":0.331,"color":"#000"},{"offset":0.331,"color":"rgba(0,0,0,0)"},{"offset":0.35,"color":"rgba(0,0,0,0)"},
            {"offset":0.35,"color":"#000"},{"offset":0.356,"color":"#000"},{"offset":0.356,"color":"rgba(0,0,0,0)"},{"offset":0.375,"color":"rgba(0,0,0,0)"},
            {"offset":0.375,"color":"#000"},{"offset":0.381,"color":"#000"},{"offset":0.381,"color":"rgba(0,0,0,0)"},{"offset":0.4,"color":"rgba(0,0,0,0)"},
            {"offset":0.4,"color":"#000"},{"offset":0.406,"color":"#000"},{"offset":0.406,"color":"rgba(0,0,0,0)"},{"offset":0.425,"color":"rgba(0,0,0,0)"},
            {"offset":0.425,"color":"#000"},{"offset":0.431,"color":"#000"},{"offset":0.431,"color":"rgba(0,0,0,0)"},{"offset":0.45,"color":"rgba(0,0,0,0)"},
            {"offset":0.45,"color":"#000"},{"offset":0.456,"color":"#000"},{"offset":0.456,"color":"rgba(0,0,0,0)"},{"offset":0.475,"color":"rgba(0,0,0,0)"},
            {"offset":0.475,"color":"#000"},{"offset":0.481,"color":"#000"},{"offset":0.481,"color":"rgba(0,0,0,0)"},{"offset":0.5,"color":"rgba(0,0,0,0)"},
            {"offset":0.5,"color":"#000"},{"offset":0.506,"color":"#000"},{"offset":0.506,"color":"rgba(0,0,0,0)"},{"offset":0.525,"color":"rgba(0,0,0,0)"},
            {"offset":0.525,"color":"#000"},{"offset":0.531,"color":"#000"},{"offset":0.531,"color":"rgba(0,0,0,0)"},{"offset":0.55,"color":"rgba(0,0,0,0)"},
            {"offset":0.55,"color":"#000"},{"offset":0.556,"color":"#000"},{"offset":0.556,"color":"rgba(0,0,0,0)"},{"offset":0.575,"color":"rgba(0,0,0,0)"},
            {"offset":0.575,"color":"#000"},{"offset":0.581,"color":"#000"},{"offset":0.581,"color":"rgba(0,0,0,0)"},{"offset":0.6,"color":"rgba(0,0,0,0)"},
            {"offset":0.6,"color":"#000"},{"offset":0.606,"color":"#000"},{"offset":0.606,"color":"rgba(0,0,0,0)"},{"offset":0.625,"color":"rgba(0,0,0,0)"},
            {"offset":0.625,"color":"#000"},{"offset":0.631,"color":"#000"},{"offset":0.631,"color":"rgba(0,0,0,0)"},{"offset":0.65,"color":"rgba(0,0,0,0)"},
            {"offset":0.65,"color":"#000"},{"offset":0.656,"color":"#000"},{"offset":0.656,"color":"rgba(0,0,0,0)"},{"offset":0.675,"color":"rgba(0,0,0,0)"},
            {"offset":0.675,"color":"#000"},{"offset":0.681,"color":"#000"},{"offset":0.681,"color":"rgba(0,0,0,0)"},{"offset":0.7,"color":"rgba(0,0,0,0)"},
            {"offset":0.7,"color":"#000"},{"offset":0.706,"color":"#000"},{"offset":0.706,"color":"rgba(0,0,0,0)"},{"offset":0.725,"color":"rgba(0,0,0,0)"},
            {"offset":0.725,"color":"#000"},{"offset":0.731,"color":"#000"},{"offset":0.731,"color":"rgba(0,0,0,0)"},{"offset":0.75,"color":"rgba(0,0,0,0)"},
            {"offset":0.75,"color":"#000"},{"offset":0.756,"color":"#000"},{"offset":0.756,"color":"rgba(0,0,0,0)"},{"offset":0.775,"color":"rgba(0,0,0,0)"},
            {"offset":0.775,"color":"#000"},{"offset":0.781,"color":"#000"},{"offset":0.781,"color":"rgba(0,0,0,0)"},{"offset":0.8,"color":"rgba(0,0,0,0)"},
            {"offset":0.8,"color":"#000"},{"offset":0.806,"color":"#000"},{"offset":0.806,"color":"rgba(0,0,0,0)"},{"offset":0.825,"color":"rgba(0,0,0,0)"},
            {"offset":0.825,"color":"#000"},{"offset":0.831,"color":"#000"},{"offset":0.831,"color":"rgba(0,0,0,0)"},{"offset":0.85,"color":"rgba(0,0,0,0)"},
            {"offset":0.85,"color":"#000"},{"offset":0.856,"color":"#000"},{"offset":0.856,"color":"rgba(0,0,0,0)"},{"offset":0.875,"color":"rgba(0,0,0,0)"},
            {"offset":0.875,"color":"#000"},{"offset":0.881,"color":"#000"},{"offset":0.881,"color":"rgba(0,0,0,0)"},{"offset":0.9,"color":"rgba(0,0,0,0)"},
            {"offset":0.9,"color":"#000"},{"offset":0.906,"color":"#000"},{"offset":0.906,"color":"rgba(0,0,0,0)"},{"offset":0.925,"color":"rgba(0,0,0,0)"},
            {"offset":0.925,"color":"#000"},{"offset":0.931,"color":"#000"},{"offset":0.931,"color":"rgba(0,0,0,0)"},{"offset":0.95,"color":"rgba(0,0,0,0)"},
            {"offset":0.95,"color":"#000"},{"offset":0.956,"color":"#000"},{"offset":0.956,"color":"rgba(0,0,0,0)"},{"offset":0.975,"color":"rgba(0,0,0,0)"},
            {"offset":0.975,"color":"#000"},{"offset":0.981,"color":"#000"},{"offset":0.981,"color":"rgba(0,0,0,0)"},{"offset":1,"color":"rgba(0,0,0,0)"}
          ]
        }
      },
      "encoding": {"y": {"field": "mean", "type": "quantitative"}}
    },
    {
      "mark": {"type": "rule", "color": "#000000", "strokeWidth": 3},
      "encoding": {
        "y": {"field": "mean", "type": "quantitative"},
        "y2": {"field": "upper"}
      }
    },
    {
      "mark": {"type": "tick", "color": "#000000", "opacity": 1, "thickness": 3},
      "encoding": {
        "y": {"field": "upper", "type": "quantitative"},
        "size": {"value": 12}
      }
    },
    {
      "mark": {
        "type": "text",
        "font": "Liberation Serif",
        "fontWeight": "bold",
        "fontSize": 24,
        "baseline": "alphabetic",
        "dy": -8,
        "color": "#000000"
      },
      "encoding": {
        "y": {"field": "upper", "type": "quantitative"},
        "text": {"field": "letter"}
      }
    }
  ],
  "config": {
    "view": {"stroke": null},
    "axis": {
      "grid": false,
      "domainColor": "#000000",
      "tickColor": "#000000",
      "labelColor": "#000000",
      "titleColor": "#000000",
      "labelFont": "Liberation Serif",
      "titleFont": "Liberation Serif",
      "labelFontWeight": "bold",
      "titleFontWeight": "bold"
    }
  }
}
